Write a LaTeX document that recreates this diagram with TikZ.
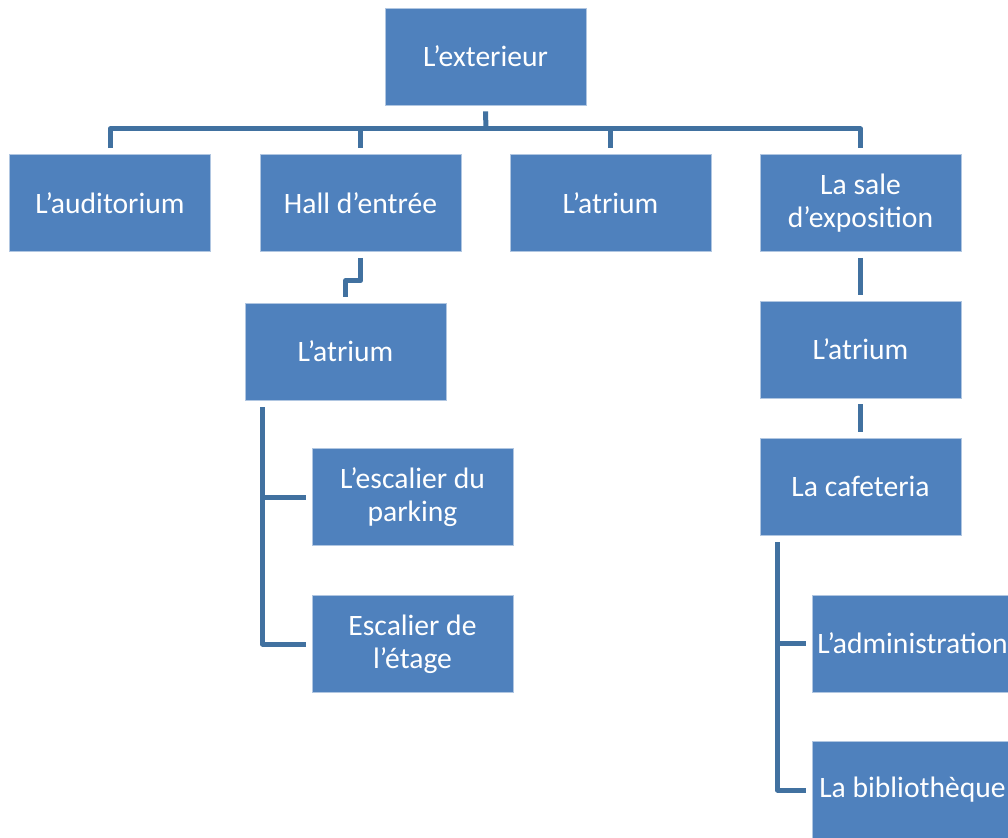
\documentclass[tikz,border=0pt]{standalone}
\usepackage{fontspec}
\setmainfont{Carlito}
\usetikzlibrary{calc}
\definecolor{boxblue}{RGB}{79,129,189}
\definecolor{lineblue}{RGB}{65,113,160}
\tikzset{
  box/.style={rectangle, fill=boxblue, draw=white!55!boxblue, line width=0.6pt,
    minimum width=150.75pt, minimum height=72.75pt, inner sep=0pt,
    text=white, align=center, font=\fontsize{22.2}{24.5}\selectfont},
  conn/.style={draw=lineblue, line width=3.75pt, line join=round}
}
\begin{document}
\begin{tikzpicture}[x=0.75pt, y=-0.75pt]
\useasboundingbox (0,0) rectangle (1008,838);
\node[box] (ext) at (485.5,56.5) {L’exterieur};
\node[box] (aud) at (110,203) {L’auditorium};
\node[box] (hall) at (360.5,203) {Hall d’entrée};
\node[box] (atr1) at (610.5,203) {L’atrium};
\node[box] (sal) at (860.5,203) {La sale\\d’exposition};
\node[box] (atr2) at (345.5,351.5) {L’atrium};
\node[box] (esc1) at (412.5,497) {L’escalier du\\parking};
\node[box] (esc2) at (412.5,644) {Escalier de\\l’étage};
\node[box] (atr3) at (860.5,349.5) {L’atrium};
\node[box] (caf) at (860.5,486.5) {La cafeteria};
\node[box] (adm) at (912.5,643.5) {L’administration};
\node[box] (bib) at (912.5,790) {La bibliothèque};
\coordinate (bus) at (486,129);
% top level
\draw[conn] ($(ext.south)+(0,6)$) -- (bus);
\draw[conn] ($(aud.north)+(0,-6)$) -- (aud.north |- bus) -- (sal.north |- bus) -- ($(sal.north)+(0,-6)$);
\draw[conn] (hall.north |- bus) -- ($(hall.north)+(0,-6)$);
\draw[conn] (atr1.north |- bus) -- ($(atr1.north)+(0,-6)$);
% hall -> atrium
\draw[conn] ($(hall.south)+(0,6)$) -- ($(hall.south)+(0,29)$) -| ($(atr2.north)+(0,-6)$);
% atrium -> stairs
\draw[conn] ($(atr2.south west)+(18,7)$) |- ($(esc1.west)+(-6,0)$);
\draw[conn] ($(atr2.south west)+(18,7)$) |- ($(esc2.west)+(-6,0)$);
% right column
\draw[conn] ($(sal.south)+(0,6)$) -- ($(atr3.north)+(0,-6)$);
\draw[conn] ($(atr3.south)+(0,6)$) -- ($(caf.north)+(0,-6)$);
\draw[conn] ($(caf.south west)+(18,7)$) |- ($(adm.west)+(-6,0)$);
\draw[conn] ($(caf.south west)+(18,7)$) |- ($(bib.west)+(-6,0)$);
\end{tikzpicture}
\end{document}
